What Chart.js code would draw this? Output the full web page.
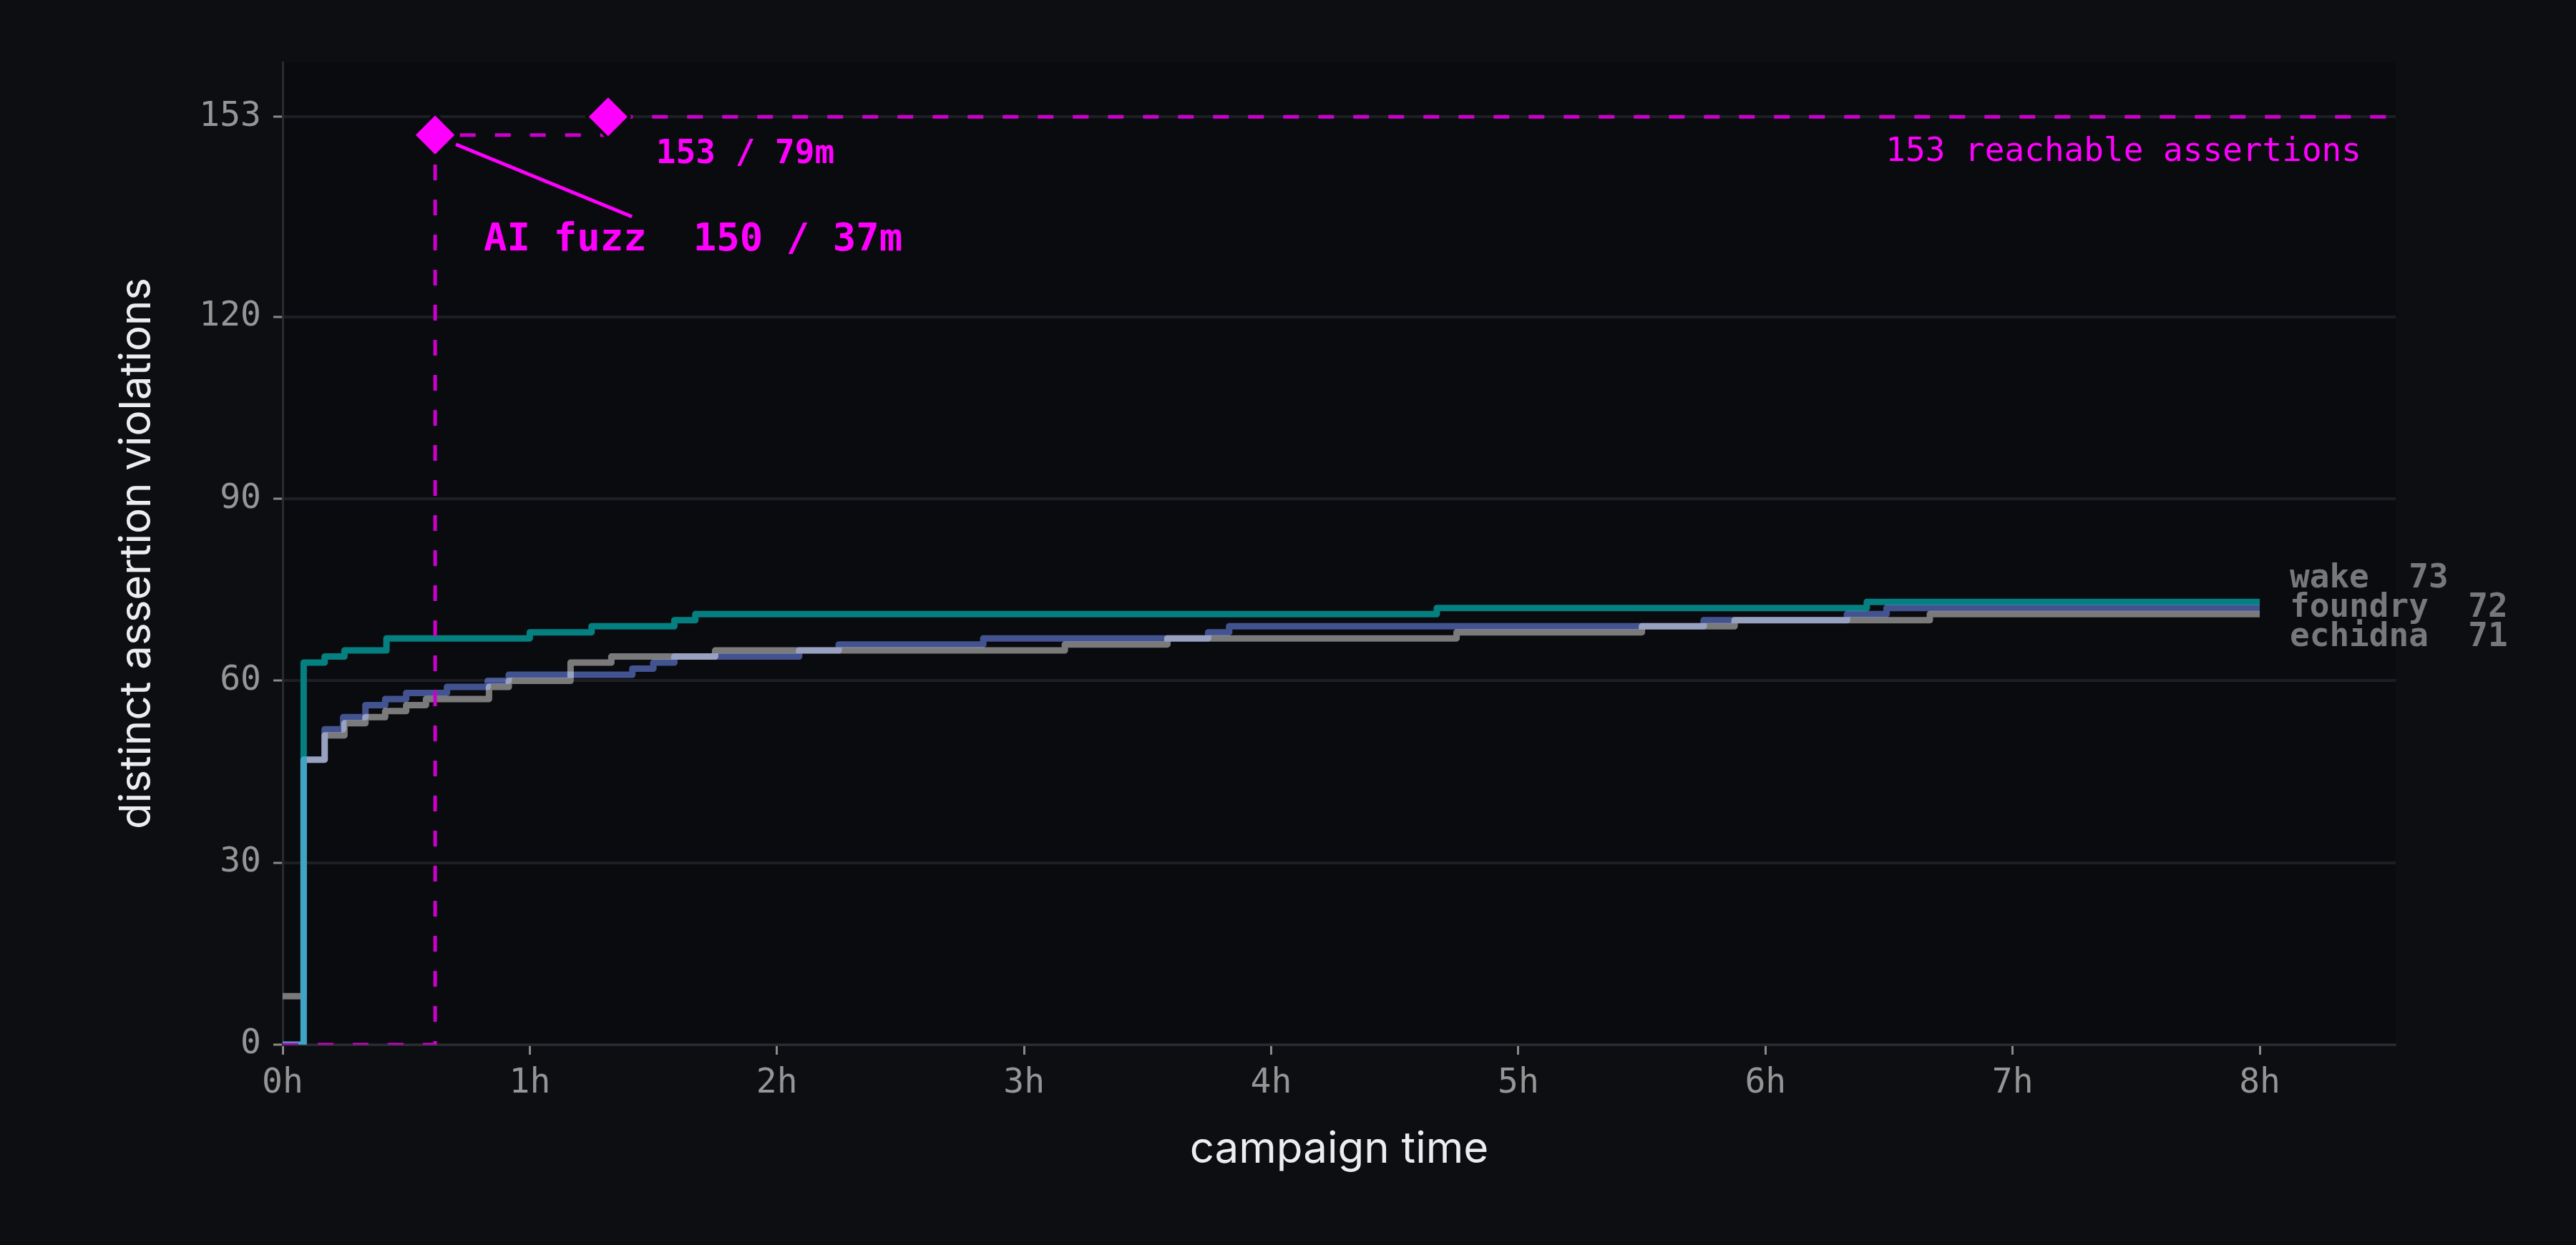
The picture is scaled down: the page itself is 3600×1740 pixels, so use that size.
<!DOCTYPE html>
<html>
<head>
<meta charset="utf-8">
<script src="https://cdn.jsdelivr.net/npm/chart.js@4.4.1/dist/chart.umd.min.js"></script>
<style>
	html, body { margin: 0; padding: 0; background: #0d0e12; }
	#wrap { width: 3600px; height: 1740px; }
</style>
</head>
<body>
<div id="wrap"><canvas id="campaign-chart"></canvas></div>
<script>
// tick positions
const xTicks = [0, 1, 2, 3, 4, 5, 6, 7, 8];
const yTicks = [0, 30, 60, 90, 120, 153];

// step series: time in hours, distinct violations found
const wakeT = [0, 0.085, 0.17, 0.25, 0.42, 1.0, 1.25, 1.585, 1.67, 4.67, 6.41, 8.0];
const wakeV = [0, 63, 64, 65, 67, 68, 69, 70, 71, 72, 73, 73];

const foundryT = [0, 0.085, 0.17, 0.245, 0.335, 0.415, 0.5, 0.665, 0.83, 0.915, 1.415, 1.5, 1.585, 2.09, 2.25, 2.835, 3.745, 3.83, 5.75, 6.33, 6.49, 8.0];
const foundryV = [0, 47, 52, 54, 56, 57, 58, 59, 60, 61, 62, 63, 64, 65, 66, 67, 68, 69, 70, 71, 72, 72];

const echidnaT = [0, 0.085, 0.17, 0.25, 0.335, 0.415, 0.5, 0.58, 0.835, 0.915, 1.165, 1.33, 1.75, 3.165, 3.58, 4.75, 5.5, 5.875, 6.665, 8.0];
const echidnaV = [8, 47, 51, 53, 54, 55, 56, 57, 59, 60, 63, 64, 65, 66, 67, 68, 69, 70, 71, 71];

const aiT = [0, 0.617, 1.317, 8.55];
const aiV = [0, 150, 153, 153];

const fuzzers = ["wake", "foundry", "echidna"];
const fuzzerColors = ["#067f80", "#3b4b89", "#7a7a7a"];

const mono = "'DejaVu Sans Mono', monospace";
const sans = "Inter, sans-serif";

function points(t, v) {
	return t.map((h, i) => ({ x: h, y: v[i] }));
}

// darker plot area
const plotBackground = {
	id: "plotBackground",
	beforeDraw(chart) {
		const { ctx, chartArea: a } = chart;
		ctx.save();
		ctx.fillStyle = "#0a0b0f";
		ctx.fillRect(a.left, a.top, a.right - a.left, a.bottom - a.top);
		ctx.restore();
	},
};

// foundry is screened over the other two so overlaps turn lighter
const screenBlend = {
	id: "screenBlend",
	beforeDatasetDraw(chart, args) {
		if (args.index === 1) {
			chart.ctx.save();
			chart.ctx.globalCompositeOperation = "screen";
		}
	},
	afterDatasetDraw(chart, args) {
		if (args.index === 1) chart.ctx.restore();
	},
};

const annotations = {
	id: "annotations",
	afterDraw(chart) {
		const { ctx, chartArea, scales } = chart;
		const x = scales.x;
		const y = scales.y;
		const x1 = x.getPixelForValue(aiT[1]);
		const y1 = y.getPixelForValue(aiV[1]);
		const x2 = x.getPixelForValue(aiT[2]);
		const y2 = y.getPixelForValue(aiV[2]);

		ctx.save();
		ctx.strokeStyle = "#ff00ff";
		ctx.lineWidth = 5;
		ctx.beginPath();
		ctx.moveTo(x1 + 29, y1 + 13);
		ctx.lineTo(x1 + 275, y1 + 114);
		ctx.stroke();

		ctx.fillStyle = "#ff00ff";
		ctx.textBaseline = "middle";
		ctx.textAlign = "left";
		ctx.font = "bold 54px " + mono;
		ctx.fillText("AI fuzz  150 / 37m", x1 + 68, y1 + 147);
		ctx.font = "bold 46px " + mono;
		ctx.fillText("153 / 79m", x2 + 67, y2 + 53);
		ctx.font = "46px " + mono;
		ctx.textAlign = "right";
		ctx.fillText("153 reachable assertions", chartArea.right - 48, y.getPixelForValue(153) + 50);

		// end-of-run labels, pushed apart so they don't collide
		const finals = [wakeV, foundryV, echidnaV].map((v) => v[v.length - 1]);
		const ys = finals.map((v) => y.getPixelForValue(v));
		const gap = 41;
		for (let k = 0; k < 30; k++) {
			for (let i = 1; i < ys.length; i++) {
				const d = ys[i] - ys[i - 1];
				if (d < gap) {
					const push = (gap - d) / 2;
					ys[i - 1] -= push;
					ys[i] += push;
				}
			}
		}
		const lx = x.getPixelForValue(8) + 42;
		ctx.textAlign = "left";
		ctx.fillStyle = "#77787c";
		ctx.font = "bold 46px " + mono;
		fuzzers.forEach((name, i) => {
			ctx.fillText(name + "  " + finals[i], lx, ys[i]);
		});
		ctx.restore();
	},
};

const lineStyle = {
	borderWidth: 9,
	stepped: true,
	pointRadius: 0,
	borderJoinStyle: "round",
	borderCapStyle: "butt",
	fill: false,
};

new Chart(document.getElementById("campaign-chart"), {
	type: "line",
	data: {
		datasets: [
			{ ...lineStyle, label: fuzzers[0], data: points(wakeT, wakeV), borderColor: fuzzerColors[0], order: 2 },
			{ ...lineStyle, label: fuzzers[1], data: points(foundryT, foundryV), borderColor: fuzzerColors[1], order: 1 },
			{ ...lineStyle, label: fuzzers[2], data: points(echidnaT, echidnaV), borderColor: fuzzerColors[2], order: 3 },
			{
				label: "AI fuzz",
				data: points(aiT, aiV),
				borderColor: "#cc00cc",
				borderWidth: 5,
				borderDash: [22, 27],
				stepped: true,
				fill: false,
				pointStyle: "rectRot",
				pointRadius: [0, 30, 30, 0],
				pointBackgroundColor: "#ff00ff",
				pointBorderColor: "#0a0b0f",
				pointBorderWidth: 4,
				order: 0,
			},
		],
	},
	options: {
		responsive: true,
		maintainAspectRatio: false,
		animation: false,
		devicePixelRatio: 1,
		events: [],
		layout: { padding: { top: 87, right: 252, bottom: 0, left: 0 } },
		plugins: {
			legend: { display: false },
			tooltip: { enabled: false },
		},
		scales: {
			x: {
				type: "linear",
				min: 0,
				max: 8.55,
				afterBuildTicks: (scale) => {
					scale.ticks = xTicks.map((v) => ({ value: v }));
				},
				afterFit: (scale) => {
					scale.height = 280;
				},
				ticks: {
					callback: (v) => v + "h",
					color: "#959595",
					font: { family: mono, size: 48 },
					padding: 12,
					maxRotation: 0,
				},
				grid: {
					drawOnChartArea: false,
					tickLength: 14,
					tickColor: "#8a8a8a",
					tickWidth: 3,
				},
				border: { color: "#2a2b30", width: 3 },
				title: {
					display: true,
					text: "campaign time",
					color: "#ededef",
					font: { family: sans, size: 60 },
					padding: { top: 0, bottom: 97 },
				},
			},
			y: {
				type: "linear",
				min: 0,
				max: 162,
				afterBuildTicks: (scale) => {
					scale.ticks = yTicks.map((v) => ({ value: v }));
				},
				afterFit: (scale) => {
					scale.width = 395;
				},
				ticks: {
					color: "#959595",
					font: { family: mono, size: 48 },
					padding: 17,
				},
				grid: {
					color: "#1e1f25",
					lineWidth: 4,
					tickLength: 13,
					tickColor: "#8a8a8a",
					tickWidth: 3,
				},
				border: { color: "#2a2b30", width: 3 },
				title: {
					display: true,
					text: "distinct assertion violations",
					color: "#ededef",
					font: { family: sans, size: 60 },
					padding: { top: 156, bottom: 0 },
				},
			},
		},
	},
	plugins: [plotBackground, screenBlend, annotations],
});
</script>
</body>
</html>
